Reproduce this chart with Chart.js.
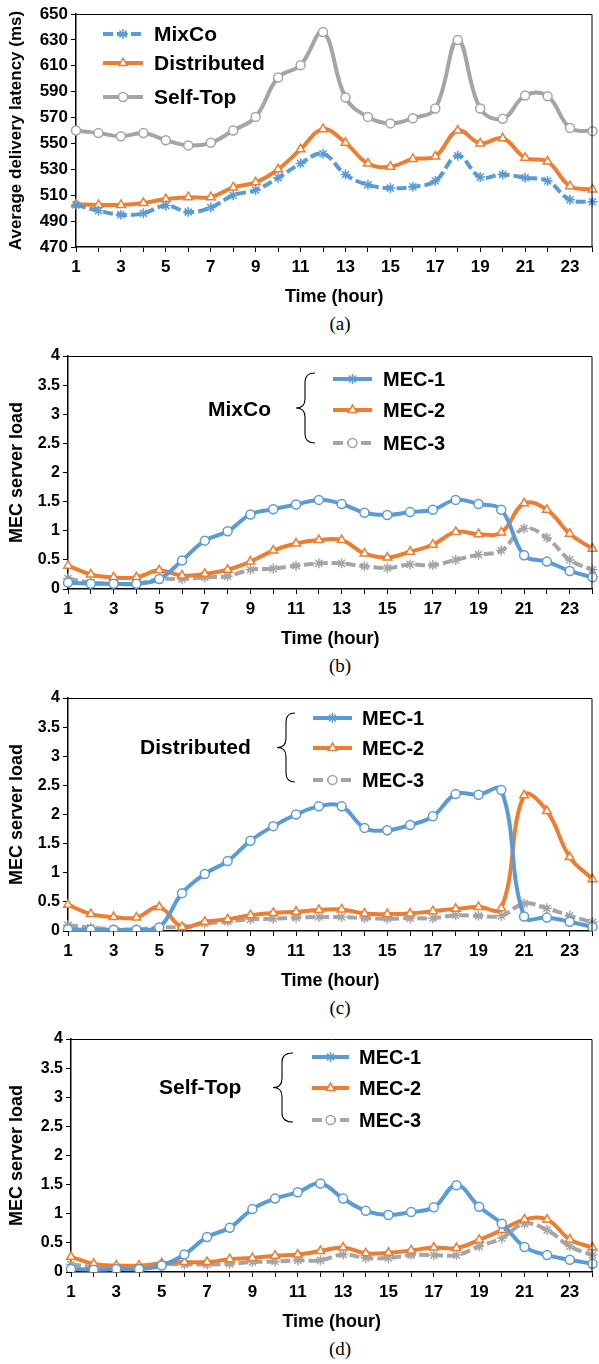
<!DOCTYPE html>
<html>
<head>
<meta charset="utf-8">
<script src="https://cdn.jsdelivr.net/npm/chart.js@4.4.0/dist/chart.umd.min.js"></script>
<style>
  body { margin: 0; background: #fff; width: 599px; height: 1364px; position: relative; overflow: hidden; }
  .cv { position: absolute; left: 0; width: 599px; height: 310px; }
  .cap { position: absolute; left: 310px; width: 60px; text-align: center; font-family: "Liberation Serif", "Times New Roman", serif; font-size: 19px; color: #000; }
</style>
</head>
<body>
<div class="cv" style="top:0px"><canvas id="chartA"></canvas></div>
<div class="cap" style="top:313px">(a)</div>
<div class="cv" style="top:342px"><canvas id="chartB"></canvas></div>
<div class="cap" style="top:655px">(b)</div>
<div class="cv" style="top:684px"><canvas id="chartC"></canvas></div>
<div class="cap" style="top:997px">(c)</div>
<div class="cv" style="top:1025px"><canvas id="chartD"></canvas></div>
<div class="cap" style="top:1338px">(d)</div>

<script>
// hours on the x axis
const hours = ['1','2','3','4','5','6','7','8','9','10','11','12','13','14','15','16','17','18','19','20','21','22','23','24'];

// (a) average delivery latency (ms)
const latMixCo = [502.5, 498, 495, 496, 502, 497, 500.5, 510, 514, 523.5, 534.5, 542, 526, 518, 515.5, 516.5, 521, 540.5, 524, 526, 523.5, 521, 506.5, 505];
const latDistributed = [503, 502.5, 502.5, 504, 507, 508.5, 508.5, 516, 520, 530, 545.5, 561, 550.5, 534.5, 532, 538, 540, 560, 550, 554, 539, 536, 517, 514.5];
const latSelfTop = [560, 558, 555.5, 558, 552.5, 548.5, 550.5, 560, 570.5, 601, 610.5, 636, 585.5, 570.5, 565.5, 569.5, 577, 630, 577, 569, 587, 586.5, 562, 559.5];

// (b) MixCo server load
const mixMec1 = [0.11, 0.09, 0.09, 0.09, 0.17, 0.49, 0.83, 0.99, 1.28, 1.37, 1.45, 1.53, 1.46, 1.31, 1.27, 1.32, 1.36, 1.53, 1.46, 1.36, 0.58, 0.47, 0.31, 0.2];
const mixMec2 = [0.4, 0.25, 0.2, 0.2, 0.32, 0.23, 0.26, 0.33, 0.47, 0.66, 0.78, 0.84, 0.84, 0.61, 0.54, 0.64, 0.76, 0.98, 0.94, 0.97, 1.47, 1.36, 0.95, 0.69];
const mixMec3 = [0.18, 0.11, 0.09, 0.09, 0.17, 0.17, 0.2, 0.22, 0.33, 0.35, 0.4, 0.44, 0.44, 0.39, 0.36, 0.42, 0.41, 0.5, 0.59, 0.66, 1.04, 0.88, 0.5, 0.33];

// (c) Distributed server load
const disMec1 = [0.03, 0.02, 0.02, 0.02, 0.06, 0.65, 0.98, 1.2, 1.55, 1.8, 2.0, 2.14, 2.14, 1.77, 1.73, 1.82, 1.97, 2.35, 2.34, 2.42, 0.25, 0.23, 0.16, 0.07];
const disMec2 = [0.45, 0.29, 0.24, 0.23, 0.41, 0.07, 0.16, 0.2, 0.27, 0.31, 0.33, 0.36, 0.37, 0.3, 0.29, 0.3, 0.34, 0.38, 0.41, 0.39, 2.33, 2.06, 1.27, 0.89];
const disMec3 = [0.1, 0.06, 0.03, 0.03, 0.06, 0.07, 0.13, 0.16, 0.2, 0.21, 0.23, 0.24, 0.24, 0.22, 0.21, 0.22, 0.22, 0.27, 0.26, 0.26, 0.47, 0.39, 0.26, 0.15];

// (d) Self-Top server load
const selfMec1 = [0.05, 0.04, 0.05, 0.05, 0.11, 0.3, 0.6, 0.76, 1.08, 1.26, 1.37, 1.52, 1.26, 1.05, 0.98, 1.03, 1.11, 1.49, 1.12, 0.83, 0.43, 0.29, 0.21, 0.14];
const selfMec2 = [0.26, 0.14, 0.11, 0.11, 0.15, 0.17, 0.17, 0.22, 0.24, 0.28, 0.3, 0.36, 0.42, 0.32, 0.33, 0.37, 0.42, 0.41, 0.55, 0.72, 0.9, 0.9, 0.56, 0.42];
const selfMec3 = [0.13, 0.09, 0.07, 0.07, 0.13, 0.13, 0.13, 0.14, 0.17, 0.18, 0.2, 0.2, 0.3, 0.24, 0.24, 0.29, 0.29, 0.29, 0.44, 0.58, 0.83, 0.72, 0.44, 0.29];

const BLUE = '#5B9BD5', ORANGE = '#ED7D31', GRAY = '#A5A5A5';
const FONT = '"Liberation Sans", Arial, sans-serif';
const DASH = [10, 4];

function series(label, data, color, marker, dashed) {
  return {
    label: label,
    data: data,
    borderColor: color,
    borderWidth: 4,
    borderDash: dashed ? DASH : [],
    tension: 0.4,
    pointStyle: marker,
    pointRadius: marker === 'circle' ? 4.5 : 5,
    pointBackgroundColor: '#fff',
    pointBorderColor: color,
    pointBorderWidth: 1.5
  };
}

// frame + legend + brace drawn on top of the chart
function overlay(spec) {
  return {
    id: 'overlay',
    afterDraw(chart) {
      const ctx = chart.ctx, a = chart.chartArea;
      ctx.save();
      ctx.strokeStyle = '#000';
      ctx.lineWidth = 1;
      ctx.beginPath();
      ctx.moveTo(a.left, a.top + 0.5);
      ctx.lineTo(a.right - 0.5, a.top + 0.5);
      ctx.lineTo(a.right - 0.5, a.bottom);
      ctx.stroke();

      spec.items.forEach((it, i) => {
        const y = spec.ys[i];
        ctx.strokeStyle = it.color;
        ctx.lineWidth = 4;
        ctx.setLineDash(it.dashed ? DASH : []);
        ctx.beginPath();
        ctx.moveTo(spec.x0, y);
        ctx.lineTo(spec.x1, y);
        ctx.stroke();
        ctx.setLineDash([]);
        ctx.fillStyle = '#fff';
        ctx.strokeStyle = it.color;
        ctx.lineWidth = 1.5;
        Chart.helpers.drawPoint(ctx, {pointStyle: it.marker, radius: it.marker === 'circle' ? 4.5 : 5, rotation: 0, borderWidth: 1.5}, (spec.x0 + spec.x1) / 2, y);
        ctx.fillStyle = '#000';
        ctx.font = 'bold ' + spec.size + 'px ' + FONT;
        ctx.textBaseline = 'middle';
        ctx.textAlign = 'left';
        ctx.fillText(it.text, spec.tx, y + 1);
      });

      if (spec.group) {
        const g = spec.group;
        ctx.fillStyle = '#000';
        ctx.font = 'bold 21px ' + FONT;
        ctx.textBaseline = 'middle';
        ctx.fillText(g.text, g.x, g.y);
        const b = g.brace, mid = (b.top + b.bottom) / 2;
        ctx.strokeStyle = '#000';
        ctx.lineWidth = 1.1;
        ctx.beginPath();
        ctx.moveTo(b.end, b.top);
        ctx.quadraticCurveTo(b.mid, b.top, b.mid, b.top + 9);
        ctx.lineTo(b.mid, mid - 9);
        ctx.quadraticCurveTo(b.mid, mid, b.tip, mid);
        ctx.quadraticCurveTo(b.mid, mid, b.mid, mid + 9);
        ctx.lineTo(b.mid, b.bottom - 9);
        ctx.quadraticCurveTo(b.mid, b.bottom, b.end, b.bottom);
        ctx.stroke();
      }
      ctx.restore();
    }
  };
}

function makeChart(id, cfg) {
  new Chart(document.getElementById(id), {
    type: 'line',
    data: { labels: hours, datasets: cfg.datasets },
    options: {
      responsive: true,
      maintainAspectRatio: false,
      animation: false,
      layout: { padding: { top: 14, right: 1, left: 0, bottom: 0 } },
      plugins: { legend: { display: false }, tooltip: { enabled: false } },
      scales: {
        x: {
          offset: false,
          grid: { drawOnChartArea: false, drawTicks: true, tickLength: 5, color: '#000', offset: false },
          border: { display: true, color: '#000', width: 1.5 },
          ticks: {
            autoSkip: false, maxRotation: 0, padding: 5, color: '#000',
            font: { family: FONT, size: 17, weight: 'bold' },
            callback: function (v, i) { return i % 2 === 0 ? this.getLabelForValue(v) : ''; }
          },
          title: { display: true, text: 'Time (hour)', color: '#000', font: { family: FONT, size: 18, weight: 'bold' }, padding: { top: 0, bottom: 2 } },
          afterFit: s => { s.height = 63; }
        },
        y: {
          min: cfg.min, max: cfg.max,
          grid: { drawOnChartArea: false, drawTicks: true, tickLength: 5, color: '#000' },
          border: { display: true, color: '#000', width: 1.5 },
          ticks: {
            stepSize: cfg.step, padding: 3, color: '#000',
            font: { family: FONT, size: cfg.tickSize, weight: 'bold' },
            callback: v => String(v)
          },
          title: { display: true, text: cfg.yTitle, color: '#000', font: { family: FONT, size: cfg.titleSize, weight: 'bold' }, padding: { top: 6, bottom: 0 } },
          afterFit: s => { s.width = cfg.yWidth; }
        }
      }
    },
    plugins: [overlay(cfg.overlay)]
  });
}

const mecLegend = [
  { text: 'MEC-1', color: BLUE, marker: 'star', dashed: false },
  { text: 'MEC-2', color: ORANGE, marker: 'triangle', dashed: false },
  { text: 'MEC-3', color: GRAY, marker: 'circle', dashed: true }
];

function mecSets(m1, m2, m3) {
  return [
    series('MEC-1', m1, BLUE, 'circle', false),
    series('MEC-2', m2, ORANGE, 'triangle', false),
    series('MEC-3', m3, GRAY, 'star', true)
  ];
}

makeChart('chartA', {
  min: 470, max: 650, step: 20, tickSize: 17, titleSize: 17, yWidth: 76,
  yTitle: 'Average delivery latency (ms)',
  datasets: [
    series('MixCo', latMixCo, BLUE, 'star', true),
    series('Distributed', latDistributed, ORANGE, 'triangle', false),
    series('Self-Top', latSelfTop, GRAY, 'circle', false)
  ],
  overlay: {
    x0: 103, x1: 143, tx: 154, ys: [34, 63, 97], size: 21,
    items: [
      { text: 'MixCo', color: BLUE, marker: 'star', dashed: true },
      { text: 'Distributed', color: ORANGE, marker: 'triangle', dashed: false },
      { text: 'Self-Top', color: GRAY, marker: 'circle', dashed: false }
    ]
  }
});

makeChart('chartB', {
  min: 0, max: 4, step: 0.5, tickSize: 16, titleSize: 18, yWidth: 68,
  yTitle: 'MEC server load',
  datasets: mecSets(mixMec1, mixMec2, mixMec3),
  overlay: {
    x0: 333, x1: 372, tx: 383, ys: [37, 68, 101], size: 20, items: mecLegend,
    group: { text: 'MixCo', x: 208, y: 68, brace: { tip: 296, mid: 305, end: 315, top: 31, bottom: 101 } }
  }
});

makeChart('chartC', {
  min: 0, max: 4, step: 0.5, tickSize: 16, titleSize: 18, yWidth: 68,
  yTitle: 'MEC server load',
  datasets: mecSets(disMec1, disMec2, disMec3),
  overlay: {
    x0: 313, x1: 352, tx: 362, ys: [34, 64, 96], size: 20, items: mecLegend,
    group: { text: 'Distributed', x: 140, y: 64, brace: { tip: 277, mid: 286, end: 295, top: 29, bottom: 98 } }
  }
});

makeChart('chartD', {
  min: 0, max: 4, step: 0.5, tickSize: 16, titleSize: 18, yWidth: 71,
  yTitle: 'MEC server load',
  datasets: mecSets(selfMec1, selfMec2, selfMec3),
  overlay: {
    x0: 312, x1: 349, tx: 359, ys: [32, 63, 95], size: 20, items: mecLegend,
    group: { text: 'Self-Top', x: 159, y: 63, brace: { tip: 273, mid: 282, end: 293, top: 28, bottom: 97 } }
  }
});
</script>
</body>
</html>
